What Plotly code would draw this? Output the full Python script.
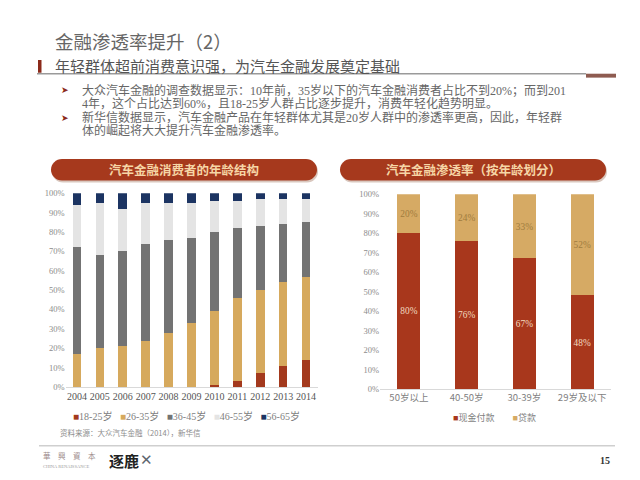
import plotly.graph_objects as go

# ---------------- data ----------------
years = ["2004", "2005", "2006", "2007", "2008", "2009", "2010", "2011", "2012", "2013", "2014"]
age_groups = ["18-25岁", "26-35岁", "36-45岁", "46-55岁", "56-65岁"]
share_18_25 = [0, 0, 0, 0, 0, 0, 1, 3, 7, 11, 14]
share_26_35 = [17, 20, 21, 24, 28, 33, 38, 43, 43, 43, 43]
share_36_45 = [55, 48, 49, 50, 48, 44, 41, 36, 33, 30, 28]
share_46_55 = [22, 27, 22, 21, 19, 18, 16, 14, 14, 13, 12]
share_56_65 = [6, 5, 8, 5, 5, 5, 4, 4, 3, 3, 3]

age_bands = ["50岁以上", "40-50岁", "30-39岁", "29岁及以下"]
pay_types = ["现金付款", "贷款"]
cash_pct = [80, 76, 67, 48]
loan_pct = [20, 24, 33, 52]

y_ticks = [0, 10, 20, 30, 40, 50, 60, 70, 80, 90, 100]

left_colors = ["#A3391D", "#D6A95D", "#737373", "#E4E4E4", "#1C3462"]
right_colors = ["#A8371C", "#D6AA64"]

W, H = 640, 480
SERIF = "Liberation Serif, Noto Sans CJK SC"
CJK = "Noto Sans CJK SC"


def px(x):
    return x / W


def py(y):
    return 1 - y / H


fig = go.Figure()

left_series = [share_18_25, share_26_35, share_36_45, share_46_55, share_56_65]
for name, vals, col in zip(age_groups, left_series, left_colors):
    fig.add_trace(go.Bar(x=years, y=vals, name=name, marker_color=col,
                         marker_line_width=0, width=0.38,
                         xaxis="x", yaxis="y", showlegend=False, hoverinfo="skip"))

right_series = [cash_pct, loan_pct]
label_colors = ["#F3DCC0", "#A07C3E"]
for name, vals, col, lc in zip(pay_types, right_series, right_colors, label_colors):
    fig.add_trace(go.Bar(x=age_bands, y=vals, name=name, marker_color=col,
                         marker_line_width=0, width=0.4,
                         text=[f"{v}%" for v in vals], textposition="inside",
                         insidetextanchor="middle", textangle=0,
                         textfont=dict(family=SERIF, size=11, color=lc),
                         xaxis="x2", yaxis="y2", showlegend=False, hoverinfo="skip"))

axis_common = dict(showgrid=False, zeroline=False, fixedrange=True)

fig.update_layout(
    width=W, height=H,
    margin=dict(l=0, r=0, t=0, b=0),
    paper_bgcolor="white", plot_bgcolor="white",
    barmode="stack",
    showlegend=False,
    uniformtext=dict(minsize=8, mode="show"),
    xaxis=dict(domain=[px(57.5), px(309.5)], anchor="y", type="category",
               range=[-0.5, 10.5], showline=True, linecolor="#D9D9D9", linewidth=1,
               ticks="", tickfont=dict(family=SERIF, size=10, color="#555555"), **axis_common),
    yaxis=dict(domain=[py(382), py(184)], anchor="x", range=[0, 100],
               tickvals=y_ticks, ticktext=[f"{v}%" for v in y_ticks],
               showline=False, ticks="",
               tickfont=dict(family=SERIF, size=8.5, color="#8C8C8C"), **axis_common),
    xaxis2=dict(domain=[px(372), px(603)], anchor="y2", type="category",
                range=[-0.5, 3.5], showline=True, linecolor="#D9D9D9", linewidth=1,
                ticks="", tickfont=dict(family=CJK, size=9.5, color="#7F7F7F"), **axis_common),
    yaxis2=dict(domain=[py(384), py(185)], anchor="x2", range=[0, 100],
                tickvals=y_ticks, ticktext=[f"{v}%" for v in y_ticks],
                showline=False, ticks="",
                tickfont=dict(family=SERIF, size=8.5, color="#8C8C8C"), **axis_common),
)


def pill_path(x0, x1, y0, y1):
    r = (y1 - y0) / 2
    k = 0.552 * r
    cy = (y0 + y1) / 2
    pts = [
        ("M", [(x0 + r, y0)]),
        ("L", [(x1 - r, y0)]),
        ("C", [(x1 - r + k, y0), (x1, cy - k), (x1, cy)]),
        ("C", [(x1, cy + k), (x1 - r + k, y1), (x1 - r, y1)]),
        ("L", [(x0 + r, y1)]),
        ("C", [(x0 + r - k, y1), (x0, cy + k), (x0, cy)]),
        ("C", [(x0, cy - k), (x0 + r - k, y0), (x0 + r, y0)]),
    ]
    s = ""
    for cmd, ps in pts:
        s += cmd + " " + " ".join(f"{px(a):.5f},{py(b):.5f}" for a, b in ps) + " "
    return s + "Z"


shapes = []
# header lines
shapes.append(dict(type="line", xref="paper", yref="paper", x0=px(29), x1=px(578),
                   y0=py(62), y1=py(62), line=dict(color="#9A9A9A", width=1.5)))
shapes.append(dict(type="rect", xref="paper", yref="paper", x0=px(578), x1=px(608),
                   y0=py(66), y1=py(62), line=dict(width=0), fillcolor="#8E5B50"))
shapes.append(dict(type="rect", xref="paper", yref="paper", x0=px(30), x1=px(33.5),
                   y0=py(61), y1=py(48), line=dict(width=0), fillcolor="#8B2A1A"))
# chart header pills
for (x0, x1) in [(43, 309), (332, 598)]:
    shapes.append(dict(type="path", xref="paper", yref="paper",
                       path=pill_path(x0 + 1, x1 + 1, 151, 173), line=dict(width=0),
                       fillcolor="#D9C7BE"))
    shapes.append(dict(type="path", xref="paper", yref="paper",
                       path=pill_path(x0, x1, 149, 171), line=dict(width=0),
                       fillcolor="#A6391D"))
# footer line
shapes.append(dict(type="line", xref="paper", yref="paper", x0=px(31), x1=px(607),
                   y0=py(442), y1=py(442), line=dict(color="#CFCFCF", width=1.5)))
fig.update_layout(shapes=shapes)

ann = []


def text(x, y, t, size, color, family=CJK, xanchor="left", bold=False):
    if bold:
        t = f"<b>{t}</b>"
    ann.append(dict(x=px(x), y=py(y), xref="paper", yref="paper", text=t,
                    showarrow=False, xanchor=xanchor, yanchor="middle",
                    font=dict(family=family, size=size, color=color)))


text(45, 29, "金融渗透率提升（2）", 18.5, "#666666")
text(45, 54, "年轻群体超前消费意识强，为汽车金融发展奠定基础", 15, "#555555")

bullet_lines = [
    (79, "大众汽车金融的调查数据显示：10年前，35岁以下的汽车金融消费者占比不到20%；而到201", True),
    (92, "4年，这个占比达到60%，且18-25岁人群占比逐步提升，消费年轻化趋势明显。", False),
    (107, "新华信数据显示，汽车金融产品在年轻群体尤其是20岁人群中的渗透率更高，因此，年轻群", True),
    (120, "体的崛起将大大提升汽车金融渗透率。", False),
]
for y, t, has_bullet in bullet_lines:
    if has_bullet:
        text(51, y, "➤", 9, "#8B2A1A", family="DejaVu Sans")
    text(72, y, t, 12, "#666666", family=SERIF)

text(176, 160, "汽车金融消费者的年龄结构", 12.5, "#F6D6A6", xanchor="center", bold=True)
text(465, 160, "汽车金融渗透率（按年龄划分）", 12.5, "#F6D6A6", xanchor="center", bold=True)

legend_left = "   ".join(f"<span style='color:{c}'>■</span>{n}" for n, c in zip(age_groups, left_colors))
text(178, 412, legend_left, 10, "#7F7F7F", family=SERIF, xanchor="center")
legend_right = "        ".join(f"<span style='color:{c}'>■</span>{n}" for n, c in zip(pay_types, right_colors))
text(486, 413, legend_right, 9, "#7F7F7F", family=SERIF, xanchor="center")

text(50, 428, "资料来源：大众汽车金融（2014），新华信", 7.5, "#8C8C8C")

text(33, 452, "華　興　資　本", 7.5, "#9B8A8A")
text(33, 463, "CHINA RENAISSANCE", 4.5, "#9B9B9B", family=SERIF)
text(99, 457, "逐鹿", 15, "#222222", bold=True)
text(130, 457, "✕", 15, "#5E6670", family="DejaVu Sans")
text(597, 457, "15", 10, "#333333", family=SERIF, xanchor="center", bold=True)

fig.update_layout(annotations=ann)

fig.write_html("out.html")
